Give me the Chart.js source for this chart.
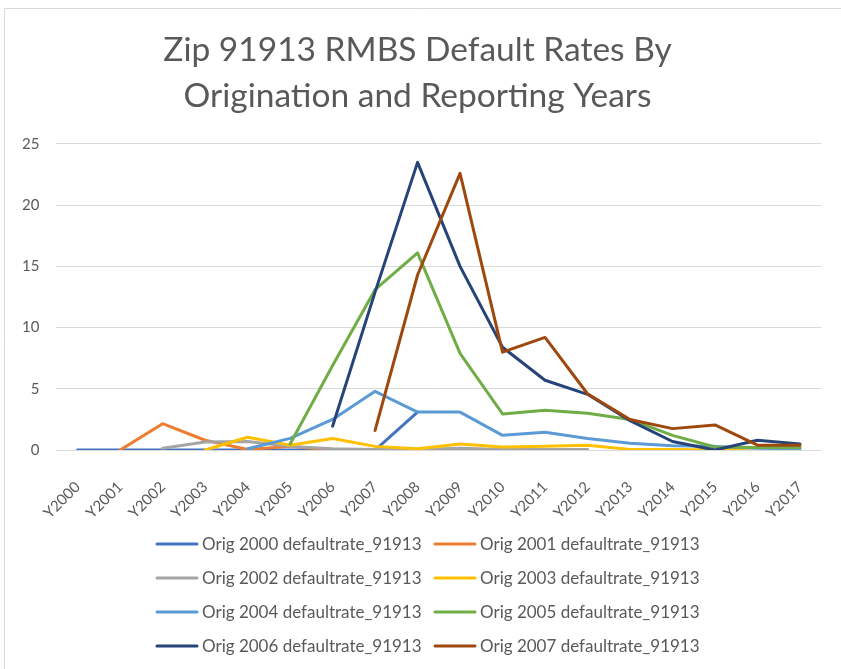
<!DOCTYPE html>
<html><head><meta charset="utf-8">
<script src="https://cdn.jsdelivr.net/npm/chart.js@4/dist/chart.umd.min.js"></script>
<style>html,body{margin:0;padding:0;background:#fff;}#wrap{width:841px;height:669px;position:relative;}</style>
</head><body><div id="wrap"><canvas id="c"></canvas></div>
<script>
const titleLines = ['Zip 91913 RMBS Default Rates By', 'Origination and Reporting Years'];
const categories = ['Y2000','Y2001','Y2002','Y2003','Y2004','Y2005','Y2006','Y2007','Y2008','Y2009','Y2010','Y2011','Y2012','Y2013','Y2014','Y2015','Y2016','Y2017'];
const seriesNames = ['Orig 2000 defaultrate_91913','Orig 2001 defaultrate_91913','Orig 2002 defaultrate_91913','Orig 2003 defaultrate_91913','Orig 2004 defaultrate_91913','Orig 2005 defaultrate_91913','Orig 2006 defaultrate_91913','Orig 2007 defaultrate_91913'];
const seriesColors = ['#4472C4','#ED7D31','#A5A5A5','#FFC000','#5B9BD5','#70AD47','#264478','#9E480E'];
const orig2000 = [0,0,0,0,0,0,0,0,3.1,null,null,null,null,null,null,null,null,null];
const orig2001 = [null,0,2.15,0.8,0.05,0.3,0,0,0,0,0,0,0,null,null,null,null,null];
const orig2002 = [null,null,0.15,0.65,0.7,0.3,0.1,0.05,0.05,0.15,0.05,0.05,0.05,null,null,null,null,null];
const orig2003 = [null,null,null,0,1.05,0.4,0.95,0.3,0.1,0.5,0.25,0.3,0.4,0.05,0.05,0,0.2,0.2];
const orig2004 = [null,null,null,null,0.1,0.95,2.5,4.8,3.1,3.1,1.2,1.45,0.95,0.55,0.35,0.3,0.15,0.1];
const orig2005 = [null,null,null,null,null,0.5,6.9,13.1,16.1,7.9,2.95,3.25,3.0,2.5,1.2,0.25,0.2,0.2];
const orig2006 = [null,null,null,null,null,null,1.95,12.9,23.5,15.0,8.4,5.7,4.55,2.4,0.7,0,0.8,0.5];
const orig2007 = [null,null,null,null,null,null,null,1.6,14.3,22.6,8.0,9.2,4.6,2.5,1.75,2.05,0.4,0.4];
const seriesValues = [orig2000,orig2001,orig2002,orig2003,orig2004,orig2005,orig2006,orig2007];
const yTicks = {min:0, max:25, step:5};

const textColor = '#595959';
const gridColor = '#d9d9d9';

const frame = {
  id:'frame',
  beforeDraw(chart){
    const ctx = chart.ctx;
    ctx.save();
    ctx.fillStyle = '#fff';
    ctx.fillRect(0,0,chart.width,chart.height);
    ctx.strokeStyle = gridColor;
    ctx.lineWidth = 1;
    ctx.beginPath();
    ctx.moveTo(4.5, chart.height);
    ctx.lineTo(4.5, 8.5);
    ctx.lineTo(chart.width, 8.5);
    ctx.stroke();
    ctx.restore();
  }
};

const gridLegend = {
  id:'gridLegend',
  afterDraw(chart){
    const ctx = chart.ctx;
    ctx.save();
    ctx.font = '17px Lato';
    ctx.textBaseline = 'middle';
    ctx.textAlign = 'left';
    const colX = [157, 435];
    const rowY0 = 544, rowStep = 34;
    chart.data.datasets.forEach((ds, i) => {
      const col = i % 2, row = Math.floor(i / 2);
      const x = colX[col], y = rowY0 + row * rowStep;
      ctx.strokeStyle = ds.borderColor;
      ctx.lineWidth = 3;
      ctx.lineCap = 'round';
      ctx.beginPath();
      ctx.moveTo(x, y);
      ctx.lineTo(x + 40, y);
      ctx.stroke();
      ctx.fillStyle = textColor;
      ctx.fillText(ds.label, x + 45, y + 1);
    });
    ctx.restore();
  }
};

new Chart(document.getElementById('c'), {
  type:'line',
  data:{
    labels: categories,
    datasets: seriesNames.map((name, i) => ({
      label: name,
      data: seriesValues[i],
      borderColor: seriesColors[i],
      backgroundColor: seriesColors[i],
      borderWidth: 3,
      pointRadius: 0,
      pointHoverRadius: 0,
      tension: 0,
      borderCapStyle: 'round',
      borderJoinStyle: 'round',
      fill: false,
      spanGaps: false,
      order: seriesNames.length - 1 - i
    }))
  },
  options:{
    responsive:true,
    maintainAspectRatio:false,
    animation:false,
    layout:{padding:{left:5, right:11, top:0, bottom:119}},
    plugins:{
      legend:{display:false},
      tooltip:{enabled:false},
      title:{
        display:true,
        text: titleLines,
        color: textColor,
        font:{family:'Lato', size:33.5, weight:'normal', lineHeight:1.373},
        padding:{top:27, bottom:25}
      }
    },
    scales:{
      x:{
        offset:true,
        grid:{display:false, drawTicks:false},
        border:{display:false},
        ticks:{color:textColor, font:{family:'Lato', size:15}, minRotation:45, maxRotation:45, autoSkip:false, padding:28}
      },
      y:{
        min:yTicks.min, max:yTicks.max,
        grid:{color:gridColor, drawTicks:false},
        border:{display:false},
        ticks:{stepSize:yTicks.step, color:textColor, font:{family:'Lato', size:15}, padding:17}
      }
    }
  },
  plugins:[frame, gridLegend]
});
</script>
</body></html>
